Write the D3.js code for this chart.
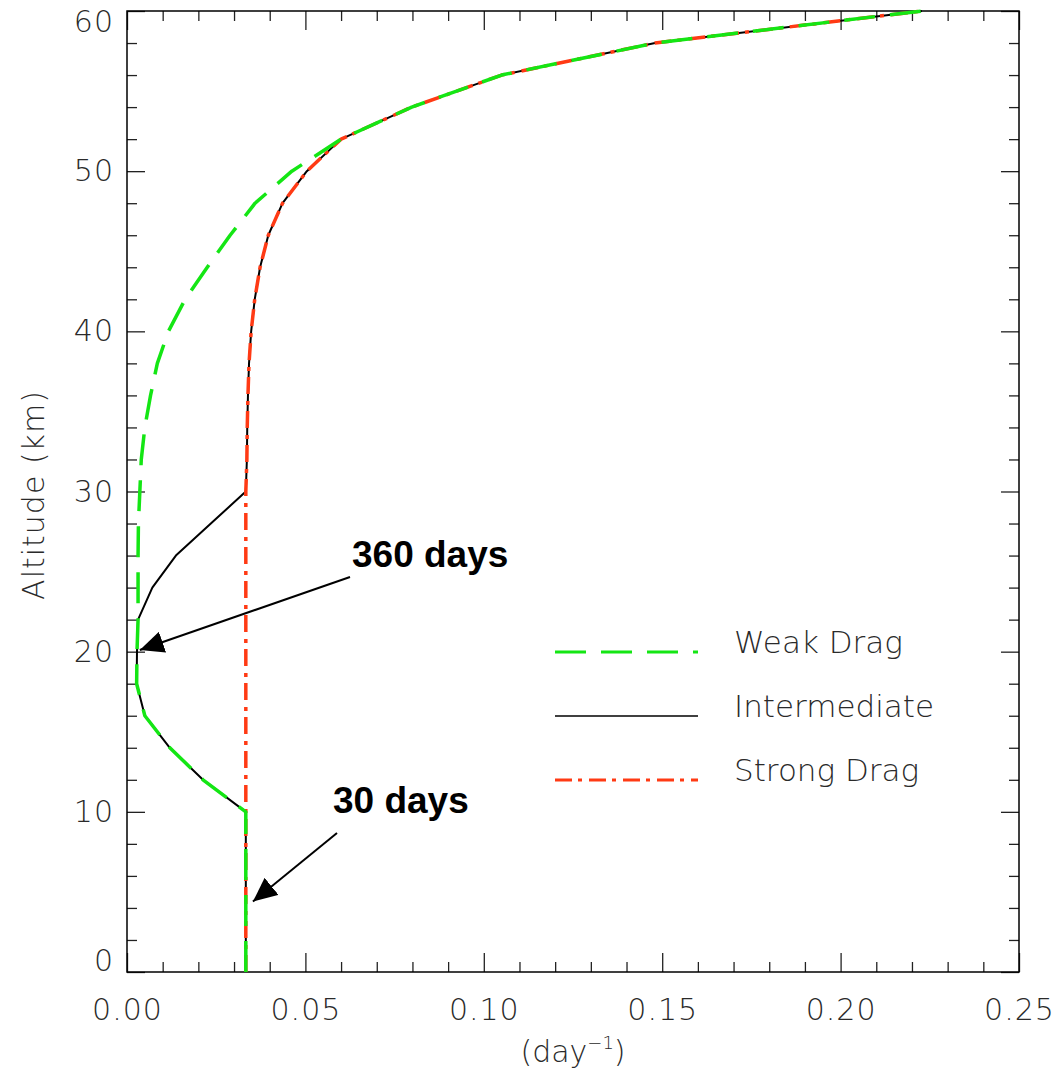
<!DOCTYPE html>
<html>
<head>
<meta charset="utf-8">
<script src="https://cdn.jsdelivr.net/npm/d3@7"></script>
<style>
  html, body { margin: 0; padding: 0; background: #fff; }
  svg { display: block; }
</style>
</head>
<body>
<div id="app"></div>
<script>
// altitude levels (km)
const altitude = [0, 2, 4, 6, 8, 10, 12, 14, 16, 18, 20, 22, 24, 26, 28, 30,
  32, 34, 36, 38, 40, 42, 44, 46, 48, 50, 52, 54, 56, 58, 60]
// drag rate (day^-1) for each altitude
const weakDrag = [0.0333, 0.0333, 0.0333, 0.0333, 0.0333, 0.0333, 0.0213, 0.0120, 0.0050, 0.0027, 0.0028, 0.0031,
  0.0031, 0.0031, 0.0032, 0.0036, 0.0040, 0.0050, 0.0066, 0.0085, 0.0116, 0.0163, 0.0225, 0.0289, 0.0359, 0.0462,
  0.0600, 0.0798, 0.1050, 0.1480, 0.2228]
const intermediate = [0.0333, 0.0333, 0.0333, 0.0333, 0.0333, 0.0333, 0.0213, 0.0120, 0.0050, 0.0027, 0.0028, 0.0031,
  0.0071, 0.0137, 0.0235, 0.0333, 0.0336, 0.0337, 0.0339, 0.0342, 0.0348, 0.0358, 0.0373, 0.0396, 0.0436, 0.0504,
  0.0600, 0.0798, 0.1050, 0.1480, 0.2228]
const strongDrag = [0.0333, 0.0333, 0.0333, 0.0333, 0.0333, 0.0333, 0.0333, 0.0333, 0.0333, 0.0333, 0.0333, 0.0333,
  0.0333, 0.0333, 0.0333, 0.0333, 0.0336, 0.0337, 0.0339, 0.0342, 0.0348, 0.0358, 0.0373, 0.0396, 0.0436, 0.0504,
  0.0600, 0.0798, 0.1050, 0.1480, 0.2228]
const xTicks = [0, 0.05, 0.10, 0.15, 0.20, 0.25]
const yTicks = [0, 10, 20, 30, 40, 50, 60]
const seriesNames = ['Weak Drag', 'Intermediate', 'Strong Drag']
// annotations: text and the point (altitude, value) the arrow points at
const notes = [
  { label: '360 days', alt: 20.1, v: 0.0036 },
  { label: '30 days', alt: 4.4, v: 0.0353 },
]

const _config = {
  width: 1061,
  height: 1075,
  margin: { top: 11, right: 42, bottom: 103, left: 127 },
  font: '"DejaVu Sans", "Liberation Sans", sans-serif',
  textColor: '#2a2a2a',
}
const W = _config.width - _config.margin.left - _config.margin.right
const H = _config.height - _config.margin.top - _config.margin.bottom

const svg = d3.select('#app')
  .append('svg')
  .attr('width', _config.width)
  .attr('height', _config.height)

const g = svg.append('g')
  .attr('transform', `translate(${_config.margin.left}, ${_config.margin.top})`)

const x = d3.scaleLinear().domain([0, 0.25]).range([0, W])
const y = d3.scaleLinear().domain([0, 60]).range([H, 0])

// ticks: major every 0.05 / 10 km, minor every 0.01 / 2 km
const xMinor = d3.range(0, 0.2501, 0.01).filter(v => Math.abs(v / 0.05 - Math.round(v / 0.05)) > 1e-6)
const yMinor = d3.range(0, 61, 2).filter(v => v % 10 !== 0)

function tickGroup(axis, transform) {
  const a = g.append('g').attr('transform', transform).call(axis)
  a.select('.domain').remove()
  a.selectAll('line').attr('stroke', '#222').attr('stroke-width', 1.3)
  return a
}
tickGroup(d3.axisBottom(x).tickValues(xMinor).tickSize(-10).tickFormat(''), `translate(0, ${H})`)
tickGroup(d3.axisTop(x).tickValues(xMinor).tickSize(-10).tickFormat(''), 'translate(0, 0)')
tickGroup(d3.axisTop(x).tickValues(xTicks).tickSize(-19).tickFormat(''), 'translate(0, 0)')
tickGroup(d3.axisLeft(y).tickValues(yMinor).tickSize(-10).tickFormat(''), 'translate(0, 0)')
tickGroup(d3.axisRight(y).tickValues(yMinor).tickSize(-10).tickFormat(''), `translate(${W}, 0)`)
tickGroup(d3.axisRight(y).tickValues(yTicks).tickSize(-18).tickFormat(''), `translate(${W}, 0)`)

tickGroup(d3.axisBottom(x).tickValues(xTicks).tickSize(-19).tickPadding(27).tickFormat(d3.format('.2f')),
  `translate(0, ${H})`)
const yAxisG = tickGroup(d3.axisLeft(y).tickValues(yTicks).tickSize(-18).tickPadding(13).tickFormat(d3.format('d')),
  'translate(0, 0)')
// y labels are kept inside the axis range at the ends
yAxisG.selectAll('text')
  .attr('y', d => Math.max(11, Math.min(H - 11, y(d))) - y(d))
svg.selectAll('.tick text')
  .attr('font-family', _config.font)
  .attr('font-weight', 200)
  .attr('font-size', 30)
  .attr('letter-spacing', 1)
  .attr('fill', _config.textColor)

// frame
g.append('rect')
  .attr('width', W)
  .attr('height', H)
  .attr('fill', 'none')
  .attr('stroke', '#000')
  .attr('stroke-width', 1.5)

// axis titles
const xt = svg.append('text')
  .attr('x', _config.margin.left + W / 2)
  .attr('y', 1062)
  .attr('text-anchor', 'middle')
  .attr('font-family', _config.font)
  .attr('font-weight', 200)
  .attr('font-size', 30)
  .attr('fill', _config.textColor)
xt.append('tspan').text('(day')
xt.append('tspan').attr('font-size', 18).attr('dy', -13).text('−1')
xt.append('tspan').attr('dy', 13).text(')')

svg.append('text')
  .attr('transform', `translate(44, 495) rotate(-90)`)
  .attr('text-anchor', 'middle')
  .attr('font-family', _config.font)
  .attr('font-weight', 200)
  .attr('font-size', 30)
  .attr('letter-spacing', 1)
  .attr('fill', _config.textColor)
  .text('Altitude (km)')

// curves
const series = [
  { name: seriesNames[0], values: weakDrag, color: '#14e614', width: 3.5, dash: '31,15' },
  { name: seriesNames[1], values: intermediate, color: '#000', width: 2, dash: null },
  { name: seriesNames[2], values: strongDrag, color: '#ff3a14', width: 3.5, dash: '17,6,4,7' },
]
const line = d3.line()
  .x(d => x(d.v))
  .y(d => y(d.alt))
const drawOrder = [series[1], series[2], series[0]]
g.selectAll('path.curve')
  .data(drawOrder)
  .enter()
  .append('path')
  .attr('class', 'curve')
  .attr('d', s => line(altitude.map((a, i) => ({ alt: a, v: s.values[i] }))))
  .attr('fill', 'none')
  .attr('stroke', s => s.color)
  .attr('stroke-width', s => s.width)
  .attr('stroke-dasharray', s => s.dash)
  .attr('stroke-linejoin', 'round')

// legend
const legend = svg.append('g')
const legendY = d3.scalePoint().domain(seriesNames).range([652, 780])
legend.selectAll('line')
  .data(series)
  .enter()
  .append('line')
  .attr('x1', 555)
  .attr('x2', 698)
  .attr('y1', s => legendY(s.name))
  .attr('y2', s => legendY(s.name))
  .attr('stroke', s => s.color)
  .attr('stroke-width', s => s.width - 0.5)
  .attr('stroke-dasharray', s => s.dash)
legend.selectAll('text')
  .data(series)
  .enter()
  .append('text')
  .attr('x', 734)
  .attr('y', s => legendY(s.name) + 1)
  .attr('font-family', _config.font)
  .attr('font-weight', 200)
  .attr('font-size', 31)
  .attr('fill', _config.textColor)
  .text(s => s.name)

// annotations with arrows
svg.append('defs').append('marker')
  .attr('id', 'head')
  .attr('viewBox', '0 0 24 22')
  .attr('refX', 24)
  .attr('refY', 11)
  .attr('markerWidth', 24)
  .attr('markerHeight', 22)
  .attr('markerUnits', 'userSpaceOnUse')
  .attr('orient', 'auto')
  .append('path')
  .attr('d', 'M0,0 L24,11 L0,22 Z')
  .attr('fill', '#000')

const noteStart = [[350, 577], [337, 833]]
const noteText = [[352, 567], [333, 813]]
notes.forEach((n, i) => {
  svg.append('line')
    .attr('x1', noteStart[i][0])
    .attr('y1', noteStart[i][1])
    .attr('x2', _config.margin.left + x(n.v))
    .attr('y2', _config.margin.top + y(n.alt))
    .attr('stroke', '#000')
    .attr('stroke-width', 2)
    .attr('marker-end', 'url(#head)')
  svg.append('text')
    .attr('x', noteText[i][0])
    .attr('y', noteText[i][1])
    .attr('font-family', '"Liberation Sans", Arial, sans-serif')
    .attr('font-weight', 'bold')
    .attr('font-size', 37)
    .attr('fill', '#000')
    .text(n.label)
})
</script>
</body>
</html>
